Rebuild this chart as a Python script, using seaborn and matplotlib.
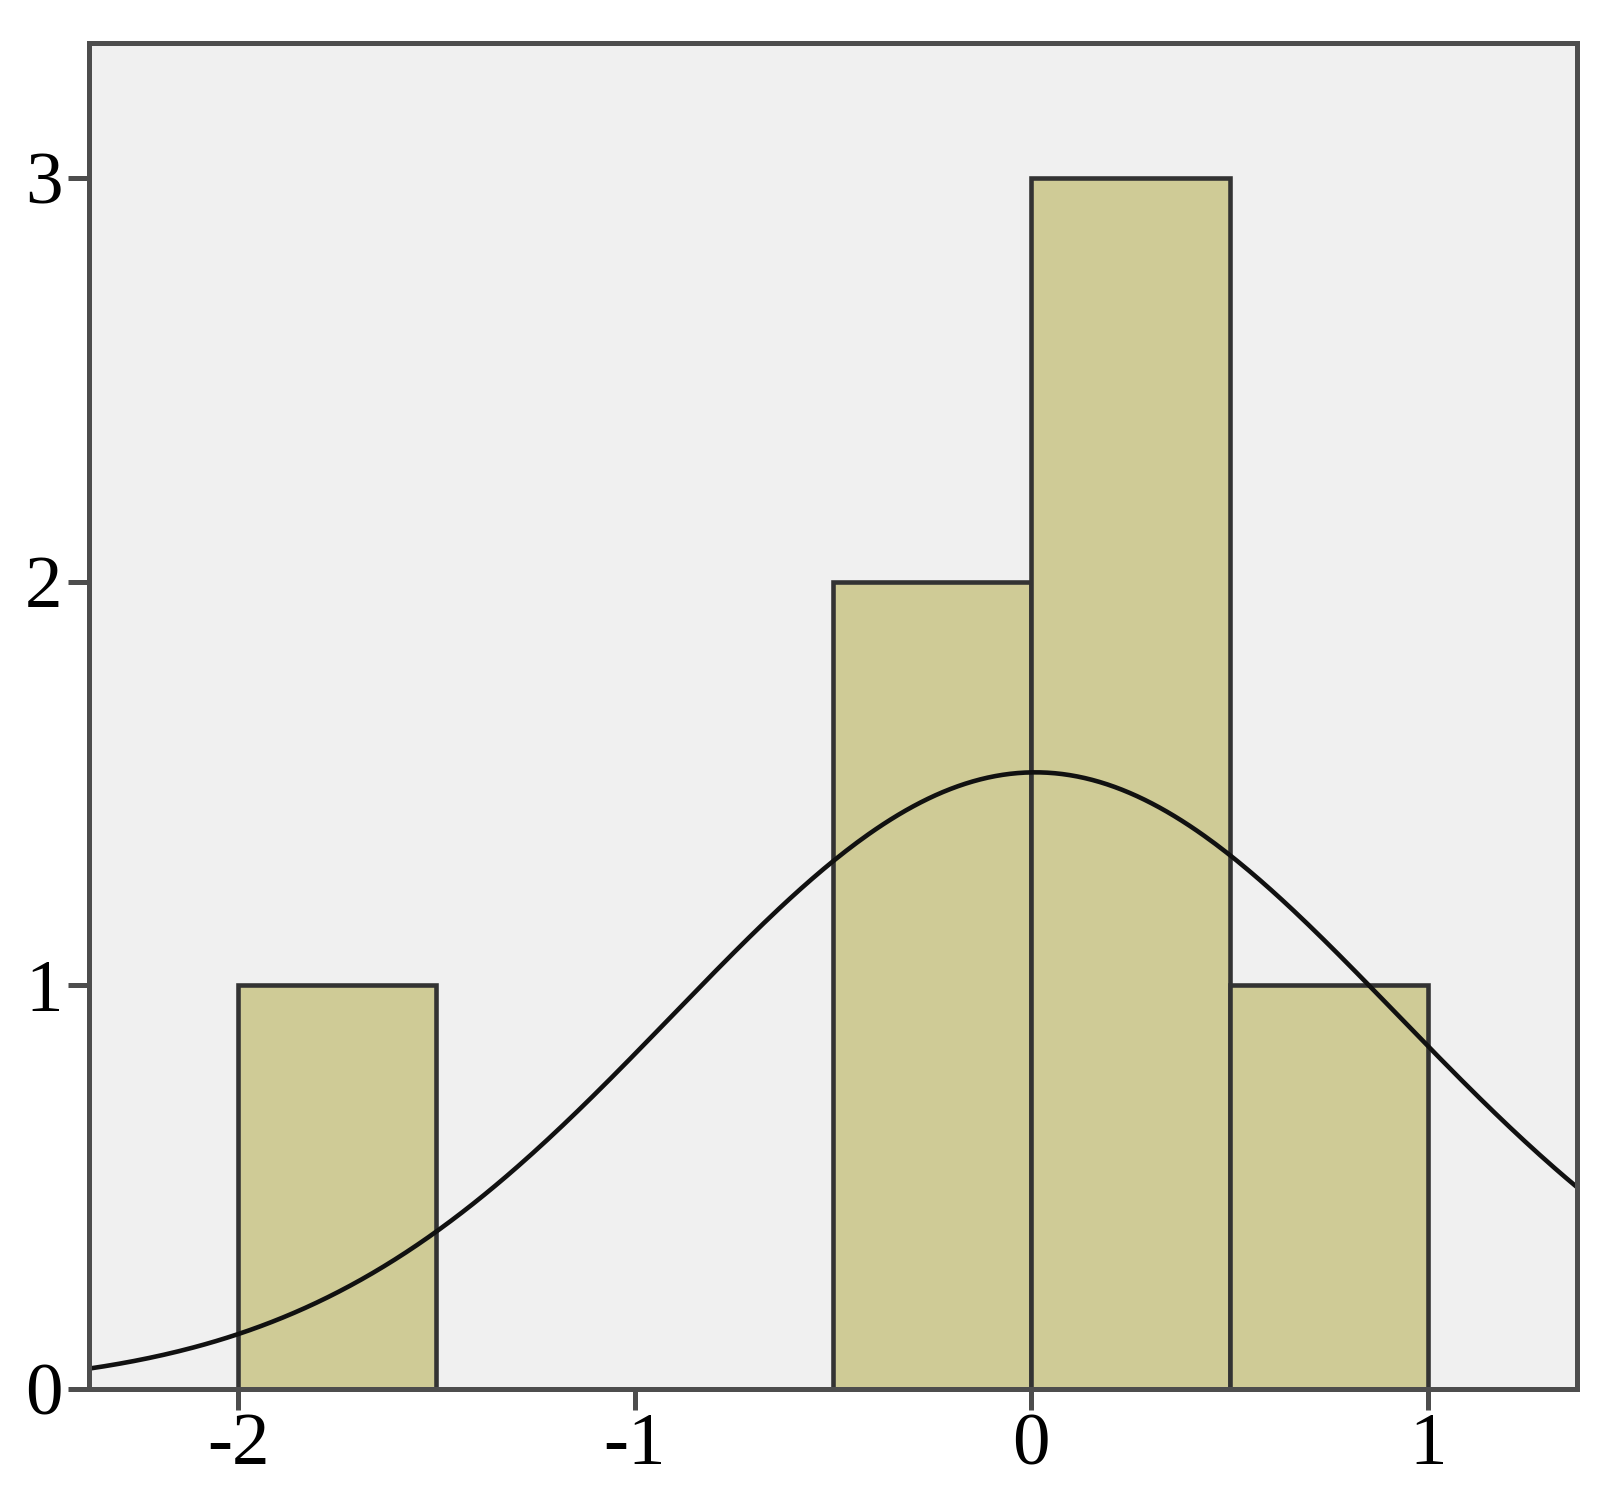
import numpy as np
import pandas as pd
import matplotlib
matplotlib.use("Agg")
import matplotlib.pyplot as plt
import seaborn as sns

# histogram bins (width 0.5) and counts
bin_edges = [-2.0, -1.5, -1.0, -0.5, 0.0, 0.5, 1.0]
counts = [1, 0, 0, 2, 3, 1]

# fitted normal curve
curve_mean = 0.01
curve_sd = 0.914
n_total = sum(counts)
bin_width = 0.5

x_ticks = [-2, -1, 0, 1]
y_ticks = [0, 1, 2, 3]

sns.set_style("white")
plt.rcParams["font.family"] = ["Liberation Serif", "DejaVu Serif"]
plt.rcParams["axes.unicode_minus"] = False

fig = plt.figure(figsize=(16.03, 14.88), dpi=100)
ax = fig.add_axes([0.0555, 0.0665, 0.9283, 0.9045])
ax.set_facecolor("#f0f0f0")

centers = [(a + b) / 2 for a, b in zip(bin_edges[:-1], bin_edges[1:])]
hist_df = pd.DataFrame({"value": centers, "count": counts})
sns.histplot(data=hist_df, x="value", weights="count", bins=bin_edges,
             color="#cfcb96", alpha=1, edgecolor="#333333", linewidth=3.3, ax=ax)

xs = np.linspace(-2.376, 1.376, 400)
ys = n_total * bin_width * np.exp(-0.5 * ((xs - curve_mean) / curve_sd) ** 2) / (curve_sd * np.sqrt(2 * np.pi))
sns.lineplot(x=xs, y=ys, color="#111111", linewidth=3.3, ax=ax)

ax.set_xlim(-2.376, 1.376)
ax.set_ylim(0, 3.334)
ax.set_xticks(x_ticks)
ax.set_yticks(y_ticks)
ax.set_xlabel("")
ax.set_ylabel("")
for s in ax.spines.values():
    s.set_visible(True)
    s.set_color("#4d4d4d")
    s.set_linewidth(3.6)
ax.tick_params(axis="both", bottom=True, left=True, length=15, width=3.6,
               color="#4d4d4d", labelsize=54, labelcolor="black")
ax.tick_params(axis="y", pad=4)
ax.tick_params(axis="x", pad=2)

fig.savefig("out.png", dpi=100)
